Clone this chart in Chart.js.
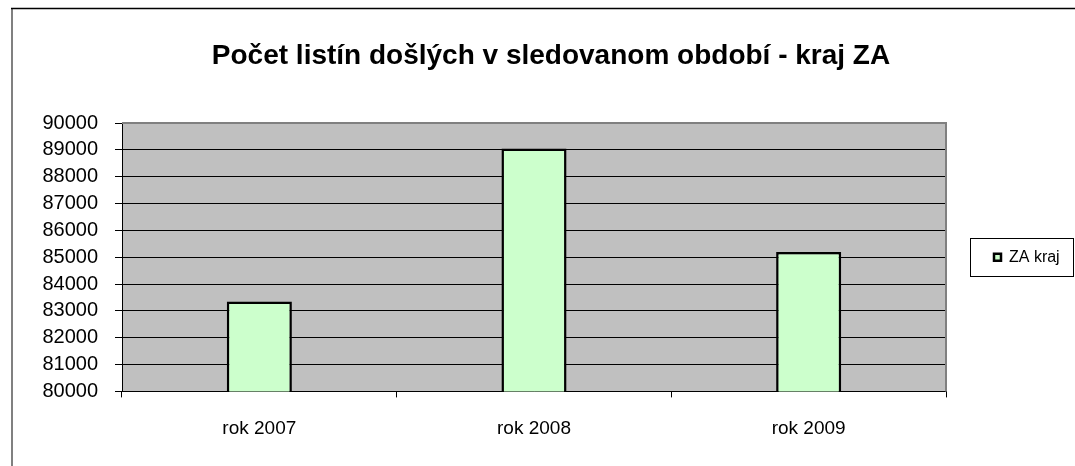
<!DOCTYPE html>
<html>
<head>
<meta charset="utf-8">
<script src="https://cdn.jsdelivr.net/npm/chart.js@4/dist/chart.umd.min.js"></script>
<style>
  html, body { margin: 0; padding: 0; background: #fff; }
  canvas { display: block; }
</style>
</head>
<body>
<canvas id="chart" width="1075" height="466"></canvas>
<script>
// data
const categories = ["rok 2007", "rok 2008", "rok 2009"];
const zaKraj = [83350, 89050, 85190];
const seriesName = "ZA kraj";
const titleText = "Počet listín došlých v sledovanom období - kraj ZA";
const yMin = 80000;
const yMax = 90000;
const yStep = 1000;

const FONT = "'Liberation Sans', Arial, sans-serif";

// background, plot frame, outer frame and legend box
const frames = {
  id: "frames",
  beforeLayout(chart) {
    const leg = chart.legend;
    if (leg && !leg._fixed) {
      const fit = leg.fit;
      leg.fit = function () { fit.call(this); this.width = 129; };
      leg._fixed = true;
    }
  },
  beforeDraw(chart) {
    const c = chart.ctx, a = chart.chartArea;
    c.save();
    c.fillStyle = "#fff";
    c.fillRect(0, 0, chart.width, chart.height);
    c.fillStyle = "#c0c0c0";
    c.fillRect(a.left, a.top, a.right - a.left, a.bottom - a.top);
    c.restore();
  },
  afterDraw(chart) {
    const c = chart.ctx, a = chart.chartArea;
    c.save();
    // plot area border (top, right)
    c.strokeStyle = "#808080";
    c.lineWidth = 2;
    c.beginPath();
    c.moveTo(a.left, a.top);
    c.lineTo(a.right, a.top);
    c.lineTo(a.right, a.bottom);
    c.stroke();
    // outer chart frame
    c.strokeStyle = "#808080";
    c.lineWidth = 2;
    c.beginPath();
    c.moveTo(12, chart.height);
    c.lineTo(12, 8);
    c.stroke();
    c.strokeStyle = "#000";
    c.lineWidth = 1.5;
    c.beginPath();
    c.moveTo(11, 8.5);
    c.lineTo(chart.width, 8.5);
    c.stroke();
    // legend border
    const hb = chart.legend.legendHitBoxes[0];
    if (hb) {
      const cy = hb.top + hb.height / 2;
      c.strokeStyle = "#000";
      c.lineWidth = 1;
      c.strokeRect(970.5, Math.round(cy - 19) + 0.5, 103, 38);
    }
    c.restore();
  }
};

new Chart(document.getElementById("chart"), {
  type: "bar",
  data: {
    labels: categories,
    datasets: [{
      label: seriesName,
      data: zaKraj,
      backgroundColor: "#ccffcc",
      borderColor: "#000",
      borderWidth: 2.5,
      barPercentage: 0.237,
      categoryPercentage: 1
    }]
  },
  options: {
    responsive: false,
    animation: false,
    devicePixelRatio: 1,
    layout: { padding: { left: 27, right: 0, top: 0, bottom: 6.6 } },
    plugins: {
      title: {
        display: true,
        text: titleText,
        color: "#000",
        font: { family: FONT, size: 28, weight: "bold" },
        padding: { top: 39, bottom: 50.4 }
      },
      legend: {
        position: "right",
        fullSize: false,
        labels: {
          color: "#000",
          font: { family: FONT, size: 16 },
          boxWidth: 7,
          boxHeight: 7,
          padding: 48
        }
      },
      tooltip: { enabled: false }
    },
    scales: {
      x: {
        grid: { display: true, drawOnChartArea: false, drawTicks: true, tickLength: 6, color: "#000", offset: true },
        border: { display: true, color: "#000", width: 1 },
        ticks: { color: "#000", font: { family: FONT, size: 19 }, padding: 19.6, maxRotation: 0, autoSkip: false }
      },
      y: {
        min: yMin,
        max: yMax,
        afterFit(scale) { scale.width = 95; },
        grid: { color: "#000", lineWidth: 1, tickLength: 7 },
        border: { display: true, color: "#000", width: 1 },
        ticks: {
          stepSize: yStep,
          autoSkip: false,
          color: "#000",
          font: { family: FONT, size: 20 },
          padding: 17,
          callback: v => String(v)
        }
      }
    }
  },
  plugins: [frames]
});
</script>
</body>
</html>
